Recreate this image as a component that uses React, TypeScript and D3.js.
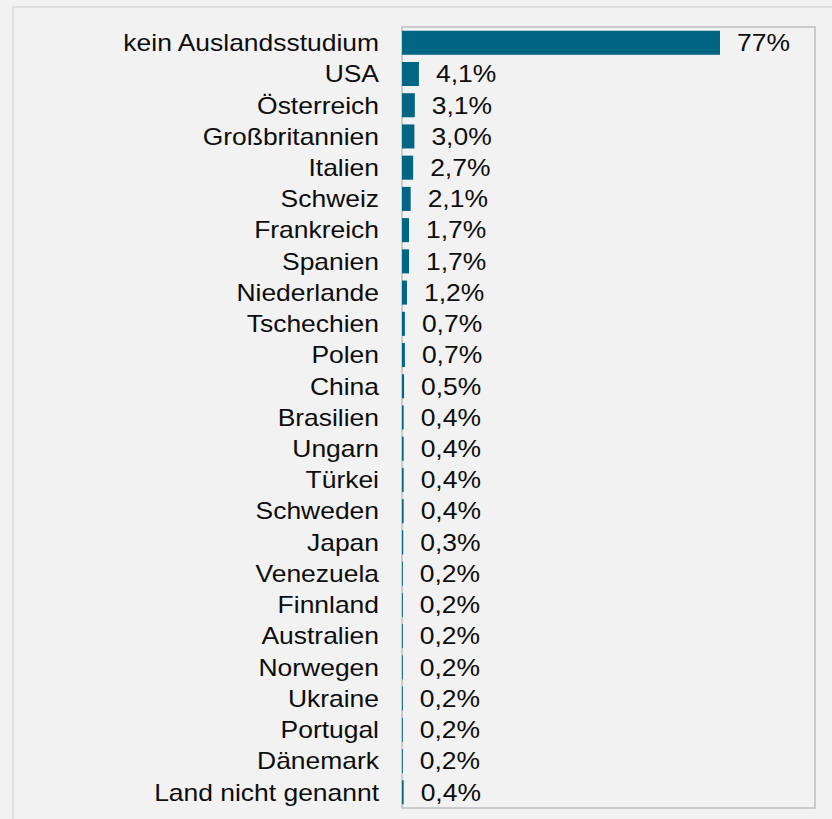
import React from 'react';
import * as d3 from 'd3';

const countries = [
  'kein Auslandsstudium', 'USA', 'Österreich', 'Großbritannien', 'Italien',
  'Schweiz', 'Frankreich', 'Spanien', 'Niederlande', 'Tschechien', 'Polen',
  'China', 'Brasilien', 'Ungarn', 'Türkei', 'Schweden', 'Japan', 'Venezuela',
  'Finnland', 'Australien', 'Norwegen', 'Ukraine', 'Portugal', 'Dänemark',
  'Land nicht genannt'
];
const shares = [
  77, 4.1, 3.1, 3.0, 2.7, 2.1, 1.7, 1.7, 1.2, 0.7, 0.7, 0.5, 0.4, 0.4, 0.4,
  0.4, 0.3, 0.2, 0.2, 0.2, 0.2, 0.2, 0.2, 0.2, 0.4
];
const valueLabels = [
  '77%', '4,1%', '3,1%', '3,0%', '2,7%', '2,1%', '1,7%', '1,7%', '1,2%',
  '0,7%', '0,7%', '0,5%', '0,4%', '0,4%', '0,4%', '0,4%', '0,3%', '0,2%',
  '0,2%', '0,2%', '0,2%', '0,2%', '0,2%', '0,2%', '0,4%'
];

const W = 832;
const H = 819;
const plot = { left: 402, right: 815, top: 27, bottom: 808 };
const FONT = "'Liberation Sans', Arial, sans-serif";
const FS = 23;
const SX = 1.15;

export default function App() {
  const x = d3.scaleLinear().domain([0, 100]).range([plot.left, plot.right]);
  const y = d3.scaleBand<number>()
    .domain(d3.range(countries.length))
    .range([plot.top, plot.bottom])
    .paddingInner(0.23)
    .paddingOuter(0.12);

  return (
    <svg width={W} height={H} style={{ position: 'absolute', left: 0, top: 0, background: '#f2f2f2' }}>
      <rect x={0} y={0} width={W} height={H} fill="#f2f2f2" />
      <rect x={13} y={7} width={W} height={H} fill="none" stroke="#d9d9d9" strokeWidth={1.5} />
      <rect x={plot.left} y={plot.top} width={plot.right - plot.left} height={plot.bottom - plot.top}
        fill="#f2f2f2" stroke="#bfbfbf" strokeWidth={1.5} />
      {shares.map((v, i) => {
        const yy = y(i)!;
        const cy = yy + y.bandwidth() / 2;
        const barEnd = x(v);
        return (
          <g key={countries[i]}>
            <rect x={x(0)} y={yy} width={barEnd - x(0)} height={y.bandwidth()} fill="#006684" />
            <text transform={`translate(379,${cy}) scale(${SX},1)`} dy="0.36em" textAnchor="end"
              fontFamily={FONT} fontSize={FS} fill="#0d0d0d">{countries[i]}</text>
            <text transform={`translate(${barEnd + 17},${cy}) scale(${SX},1)`} dy="0.36em"
              fontFamily={FONT} fontSize={FS} fill="#0d0d0d">{valueLabels[i]}</text>
          </g>
        );
      })}
    </svg>
  );
}
